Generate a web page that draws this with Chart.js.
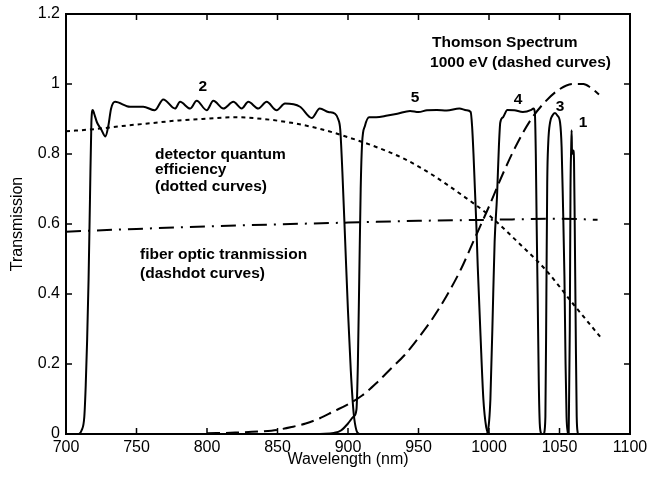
<!DOCTYPE html>
<html>
<head>
<meta charset="utf-8">
<script src="https://cdn.jsdelivr.net/npm/chart.js@4"></script>
<style>
  html, body { margin: 0; padding: 0; background: #fff; }
  #wrap { width: 647px; height: 485px; }
</style>
</head>
<body>
<div id="wrap"><canvas id="c"></canvas></div>
<script>
// filter 2 (solid)
const nm2 = [700, 709, 711, 713, 714, 715, 716, 717, 718, 719, 720, 722, 725, 728, 730, 732, 734.8, 745.4, 754.8, 763, 769, 777.3, 780.9, 788, 792.7, 799.8, 804.5, 811.6, 818.7, 824.6, 829.3, 836.4, 842.3, 849.4, 855.3, 866, 874.3, 880, 886, 890.8, 893, 894.5, 896, 898, 900, 902, 904, 906, 908];
const tr2 = [0, 0, 0.01, 0.05, 0.14, 0.27, 0.44, 0.67, 0.89, 0.926, 0.915, 0.89, 0.87, 0.85, 0.88, 0.93, 0.949, 0.935, 0.935, 0.925, 0.956, 0.93, 0.949, 0.93, 0.952, 0.925, 0.952, 0.93, 0.949, 0.93, 0.949, 0.93, 0.949, 0.925, 0.944, 0.935, 0.903, 0.93, 0.92, 0.915, 0.9, 0.87, 0.75, 0.55, 0.35, 0.18, 0.06, 0.01, 0];
// filter 5
const nm5 = [880, 890, 895, 900, 904, 906, 907, 908, 909, 910, 912, 915, 920, 928, 935, 944, 950, 956, 963, 970, 979, 984, 987, 988, 989, 990, 991, 992, 994, 996, 998, 1000];
const tr5 = [0, 0.003, 0.01, 0.03, 0.05, 0.07, 0.2, 0.45, 0.7, 0.83, 0.88, 0.905, 0.905, 0.91, 0.915, 0.923, 0.92, 0.925, 0.926, 0.924, 0.93, 0.925, 0.92, 0.88, 0.8, 0.7, 0.6, 0.48, 0.28, 0.1, 0.02, 0];
// filter 4
const nm4 = [998, 999, 1001, 1003, 1004, 1005.7, 1007, 1008, 1010, 1013, 1018, 1024, 1030, 1031.5, 1032.5, 1033.2, 1033.8, 1034.5, 1035.3, 1036, 1037];
const tr4 = [0, 0.005, 0.1, 0.4, 0.55, 0.68, 0.82, 0.89, 0.905, 0.926, 0.925, 0.92, 0.926, 0.93, 0.92, 0.8, 0.6, 0.4, 0.15, 0.03, 0];
// filter 3
const nm3 = [1039, 1040, 1040.7, 1041.3, 1042, 1043.3, 1045, 1046.8, 1048.5, 1050.4, 1051.5, 1052.5, 1053.5, 1054.3, 1055, 1056];
const tr3 = [0, 0.05, 0.4, 0.72, 0.83, 0.89, 0.91, 0.917, 0.91, 0.89, 0.82, 0.65, 0.45, 0.2, 0.05, 0];
// filter 1
const nm1 = [1056.5, 1057.3, 1057.8, 1058.3, 1058.6, 1058.9, 1059.3, 1059.8, 1060.3, 1060.8, 1061.5, 1062.2, 1063];
const tr1 = [0, 0.3, 0.7, 0.82, 0.868, 0.8, 0.81, 0.81, 0.78, 0.6, 0.3, 0.05, 0];
// Thomson spectrum 1000 eV (dashed)
const nmT = [800, 820, 840, 850, 860, 870, 880, 890, 900, 910, 920, 930, 940, 950, 960, 970, 980, 990, 1000, 1010, 1020, 1030, 1040, 1050, 1060, 1067, 1072, 1078];
const trT = [0.002, 0.004, 0.008, 0.012, 0.02, 0.03, 0.045, 0.065, 0.085, 0.11, 0.145, 0.185, 0.225, 0.275, 0.33, 0.395, 0.47, 0.56, 0.65, 0.745, 0.83, 0.9, 0.95, 0.985, 1.0, 1.0, 0.99, 0.97];
// detector quantum efficiency (dotted)
const nmQ = [700, 720, 740, 760, 780, 800, 820, 840, 860, 880, 900, 920, 940, 960, 980, 1000, 1020, 1040, 1060, 1079];
const trQ = [0.865, 0.871, 0.88, 0.888, 0.896, 0.901, 0.905, 0.9, 0.889, 0.872, 0.848, 0.82, 0.786, 0.74, 0.685, 0.625, 0.55, 0.47, 0.37, 0.277];
// fiber optic transmission (dashdot)
const nmF = [700, 750, 800, 850, 900, 950, 1000, 1050, 1077];
const trF = [0.578, 0.586, 0.593, 0.599, 0.604, 0.609, 0.612, 0.615, 0.612];

const xTicks = [700, 750, 800, 850, 900, 950, 1000, 1050, 1100];
const yTicks = [0, 0.2, 0.4, 0.6, 0.8, 1, 1.2];

// text notes, anchored in data coordinates
const notes = [
  { t: '2', x: 797, y: 0.991, al: 'center' },
  { t: '5', x: 947.5, y: 0.96, al: 'center' },
  { t: '4', x: 1020.6, y: 0.954, al: 'center' },
  { t: '3', x: 1050.4, y: 0.934, al: 'center' },
  { t: '1', x: 1066.7, y: 0.889, al: 'center' },
  { t: 'Thomson Spectrum', x: 959.6, y: 1.117, al: 'left' },
  { t: '1000 eV (dashed curves)', x: 958.2, y: 1.06, al: 'left' },
  { t: 'detector quantum', x: 763.1, y: 0.797, al: 'left' },
  { t: 'efficiency', x: 763.1, y: 0.755, al: 'left' },
  { t: '(dotted curves)', x: 763.1, y: 0.706, al: 'left' },
  { t: 'fiber optic tranmission', x: 752.5, y: 0.511, al: 'left' },
  { t: '(dashdot curves)', x: 752.5, y: 0.457, al: 'left' }
];

const pts = (xs, ys) => xs.map((x, i) => ({ x: x, y: ys[i] }));
const FONT = "'Liberation Sans', Arial, sans-serif";

function line(xs, ys, dash) {
  return {
    data: pts(xs, ys),
    borderColor: '#000',
    borderWidth: 2,
    borderDash: dash || [],
    pointRadius: 0,
    cubicInterpolationMode: 'monotone',
    fill: false
  };
}

// frame with inward ticks, MATLAB style
const framePlugin = {
  id: 'frame',
  afterDatasetsDraw(chart) {
    const { ctx, chartArea: a, scales: { x, y } } = chart;
    ctx.save();
    ctx.strokeStyle = '#000';
    ctx.lineWidth = 2;
    ctx.strokeRect(a.left, a.top, a.right - a.left, a.bottom - a.top);
    ctx.lineWidth = 1.5;
    ctx.beginPath();
    xTicks.forEach(v => {
      const p = x.getPixelForValue(v);
      ctx.moveTo(p, a.bottom); ctx.lineTo(p, a.bottom - 6);
      ctx.moveTo(p, a.top); ctx.lineTo(p, a.top + 6);
    });
    yTicks.forEach(v => {
      const p = y.getPixelForValue(v);
      ctx.moveTo(a.left, p); ctx.lineTo(a.left + 6, p);
      ctx.moveTo(a.right, p); ctx.lineTo(a.right - 6, p);
    });
    ctx.stroke();
    ctx.fillStyle = '#000';
    ctx.textBaseline = 'middle';
    ctx.font = 'bold 15.5px ' + FONT;
    notes.forEach(n => {
      ctx.textAlign = n.al;
      ctx.fillText(n.t, x.getPixelForValue(n.x), y.getPixelForValue(n.y));
    });
    ctx.restore();
  }
};

new Chart(document.getElementById('c'), {
  type: 'line',
  data: {
    datasets: [
      line(nm2, tr2),
      line(nm5, tr5),
      line(nm4, tr4),
      line(nm3, tr3),
      line(nm1, tr1),
      line(nmT, trT, [13, 6]),
      line(nmQ, trQ, [4, 4]),
      line(nmF, trF, [15, 7, 2, 7])
    ]
  },
  options: {
    responsive: true,
    maintainAspectRatio: false,
    animation: false,
    layout: { padding: { left: 8, top: 14, right: 17, bottom: 15.4 } },
    plugins: { legend: { display: false }, tooltip: { enabled: false } },
    scales: {
      x: {
        type: 'linear', min: 700, max: 1100,
        afterBuildTicks: s => { s.ticks = xTicks.map(v => ({ value: v })); },
        afterFit: s => { s.height = 35.6; s.paddingLeft = 0; s.paddingRight = 0; },
        grid: { display: false, drawTicks: false },
        border: { display: false },
        ticks: { color: '#000', padding: 4, maxRotation: 0, font: { family: FONT, size: 16 }, callback: v => String(v) },
        title: { display: true, text: 'Wavelength (nm)', color: '#000', padding: 0, font: { family: FONT, size: 16 } }
      },
      y: {
        type: 'linear', min: 0, max: 1.2,
        afterBuildTicks: s => { s.ticks = yTicks.map(v => ({ value: v })); },
        afterFit: s => { s.width = 58; s.paddingTop = 0; s.paddingBottom = 0; },
        grid: { display: false, drawTicks: false },
        border: { display: false },
        ticks: { color: '#000', padding: 6, font: { family: FONT, size: 16 }, callback: v => String(+v.toFixed(1)) },
        title: { display: true, text: 'Transmission', color: '#000', padding: 0, font: { family: FONT, size: 16 } }
      }
    }
  },
  plugins: [framePlugin]
});
</script>
</body>
</html>
